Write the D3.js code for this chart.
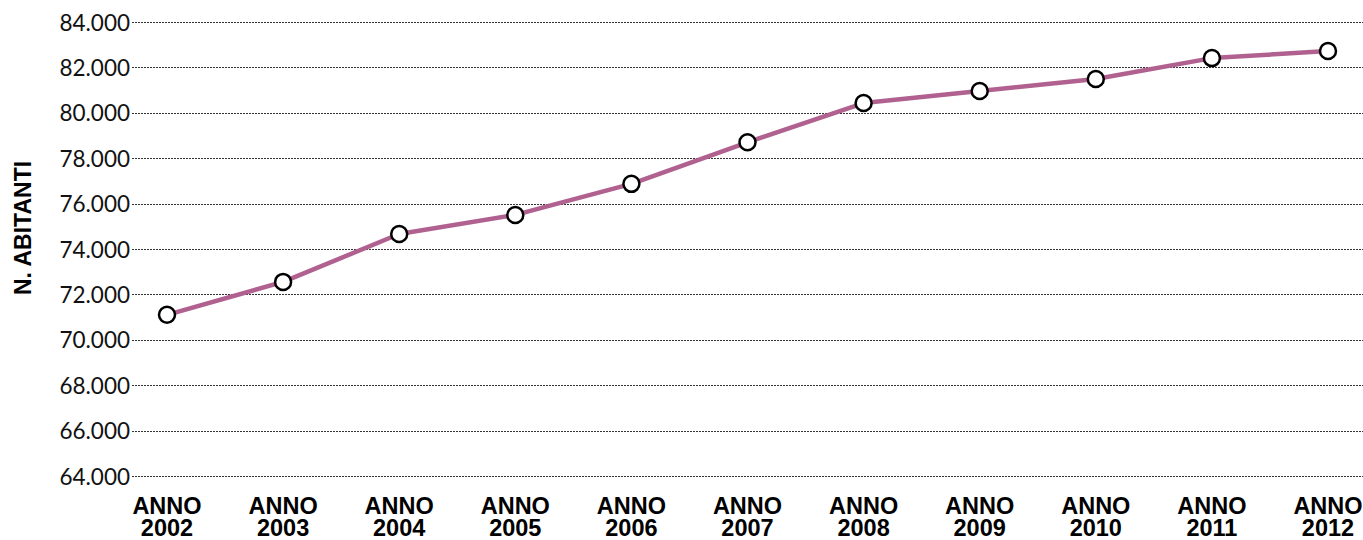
<!DOCTYPE html>
<html>
<head>
<meta charset="utf-8">
<script src="https://cdn.jsdelivr.net/npm/d3@7/dist/d3.min.js"></script>
<style>
  html, body { margin: 0; padding: 0; background: #fff; }
  svg { display: block; }
</style>
</head>
<body>
<svg id="chart" width="1363" height="540"></svg>
<script>
// Popolazione residente per anno
const years = ["2002", "2003", "2004", "2005", "2006", "2007", "2008", "2009", "2010", "2011", "2012"];
const inhabitants = [71100, 72550, 74660, 75500, 76870, 78700, 80430, 80960, 81490, 82410, 82720];
const yTicks = [64000, 66000, 68000, 70000, 72000, 74000, 76000, 78000, 80000, 82000, 84000];

const svg = d3.select("#chart");
const plotLeft = 132, plotRight = 1363, plotTop = 22, plotBottom = 476;

const x = d3.scalePoint().domain(years).range([167, 1328]);
const y = d3.scaleLinear().domain([64000, 84000]).range([plotBottom, plotTop]);

const fmt = v => d3.format(",")(v).replace(/,/g, ".");

// griglia orizzontale tratteggiata con etichette
const yAxis = d3.axisLeft(y).tickValues(yTicks).tickSize(-(plotRight - plotLeft)).tickFormat(fmt).tickPadding(2);
const gy = svg.append("g").attr("transform", `translate(${plotLeft},0)`).call(yAxis);
gy.select(".domain").remove();
gy.selectAll(".tick line")
  .attr("stroke", "#333").attr("stroke-width", 1).attr("stroke-dasharray", "2,1")
  .attr("shape-rendering", "crispEdges");
gy.selectAll(".tick text")
  .attr("fill", "#111").attr("font-family", "Lato, sans-serif").attr("font-size", 22.5)
  .attr("dy", "0.36em");

// etichette anni
const xl = svg.append("g");
years.forEach(yr => {
  const t = xl.append("text")
    .attr("x", x(yr)).attr("text-anchor", "middle")
    .attr("font-family", "'Liberation Sans', Arial, sans-serif")
    .attr("font-weight", "bold").attr("font-size", 23.5).attr("fill", "#000");
  t.append("tspan").attr("x", x(yr)).attr("y", 514).text("ANNO");
  t.append("tspan").attr("x", x(yr)).attr("y", 536).text(yr);
});

// titolo asse verticale
svg.append("text")
  .attr("transform", "translate(31,228) rotate(-90)")
  .attr("text-anchor", "middle")
  .attr("font-family", "'Liberation Sans', Arial, sans-serif")
  .attr("font-weight", "bold").attr("font-size", 23).attr("fill", "#000")
  .text("N. ABITANTI");

// linea
const line = d3.line().x((d, i) => x(years[i])).y(d => y(d));
svg.append("path").datum(inhabitants)
  .attr("d", line).attr("fill", "none")
  .attr("stroke", "#b0618f").attr("stroke-width", 4.5).attr("stroke-linejoin", "round");

// marcatori
svg.append("g").selectAll("circle").data(inhabitants).join("circle")
  .attr("cx", (d, i) => x(years[i])).attr("cy", d => y(d)).attr("r", 8)
  .attr("fill", "#fff").attr("stroke", "#000").attr("stroke-width", 2.5);
</script>
</body>
</html>
